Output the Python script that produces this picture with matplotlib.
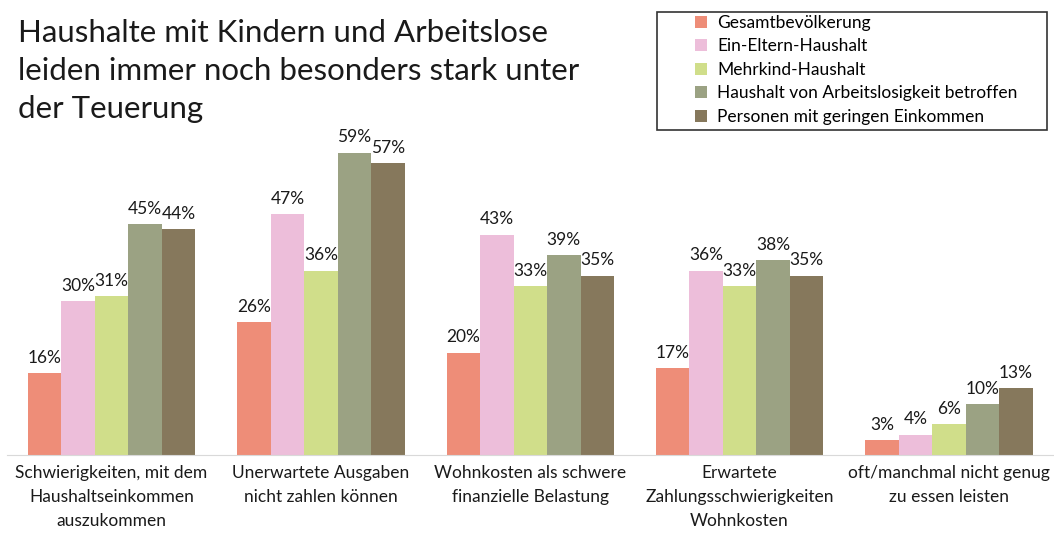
import matplotlib.pyplot as plt
from matplotlib.patches import Rectangle
import numpy as np

plt.rcParams['font.family'] = ['Lato', 'DejaVu Sans']

# data
categories = ['Schwierigkeiten, mit dem\nHaushaltseinkommen\nauszukommen',
              'Unerwartete Ausgaben\nnicht zahlen können',
              'Wohnkosten als schwere\nfinanzielle Belastung',
              'Erwartete\nZahlungsschwierigkeiten\nWohnkosten',
              'oft/manchmal nicht genug\nzu essen leisten']
series = ['Gesamtbevölkerung', 'Ein-Eltern-Haushalt', 'Mehrkind-Haushalt',
          'Haushalt von Arbeitslosigkeit betroffen', 'Personen mit geringen Einkommen']
gesamt = [16, 26, 20, 17, 3]
eineltern = [30, 47, 43, 36, 4]
mehrkind = [31, 36, 33, 33, 6]
arbeitslos = [45, 59, 39, 38, 10]
gering = [44, 57, 35, 35, 13]
colours = ['#EE8D78', '#EDBEDA', '#D0DE8A', '#9BA283', '#86785C']

values = [gesamt, eineltern, mehrkind, arbeitslos, gering]

fig = plt.figure(figsize=(10.54, 5.33), dpi=100)
ax = fig.add_axes([0.0066, 0.146, 0.993, 0.64])

x = np.arange(len(categories))
w = 0.16
for i, vals in enumerate(values):
    pos = x + (i - 2) * w
    bars = ax.bar(pos, vals, w, color=colours[i], label=series[i])
    for b, v in zip(bars, vals):
        ax.text(b.get_x() + w / 2, v + 1.4, f'{v}%', ha='center', va='bottom',
                fontsize=12.5, color='#1a1a1a')

ax.set_xlim(-0.5, 4.5)
ax.set_ylim(0, 66.5)
ax.set_yticks([])
ax.set_xticks(x)
ax.set_xticklabels(categories, fontsize=12.5, linespacing=1.62, color='#1a1a1a')
ax.tick_params(axis='x', length=0, pad=7)
for s in ['top', 'right', 'left']:
    ax.spines[s].set_visible(False)
ax.spines['bottom'].set_color('#d9d9d9')

fig.text(0.017, 0.965, 'Haushalte mit Kindern und Arbeitslose\nleiden immer noch besonders stark unter\nder Teuerung',
         fontsize=22.5, va='top', ha='left', linespacing=1.45, color='#1a1a1a')

# legend without frame, frame drawn separately (wide left margin as in original)
leg = fig.legend(loc='upper left', bbox_to_anchor=(0.654, 0.982), fontsize=12.5,
                 frameon=False, handlelength=0.7, handleheight=0.7, labelspacing=0.43,
                 borderpad=0.3, handletextpad=0.6, borderaxespad=0)
fig.patches.append(Rectangle((657 / 1054, 1 - 130 / 533), 390 / 1054, 118 / 533,
                             transform=fig.transFigure, fill=False,
                             edgecolor='#333333', linewidth=1.2))

fig.savefig('out.png', dpi=100)
